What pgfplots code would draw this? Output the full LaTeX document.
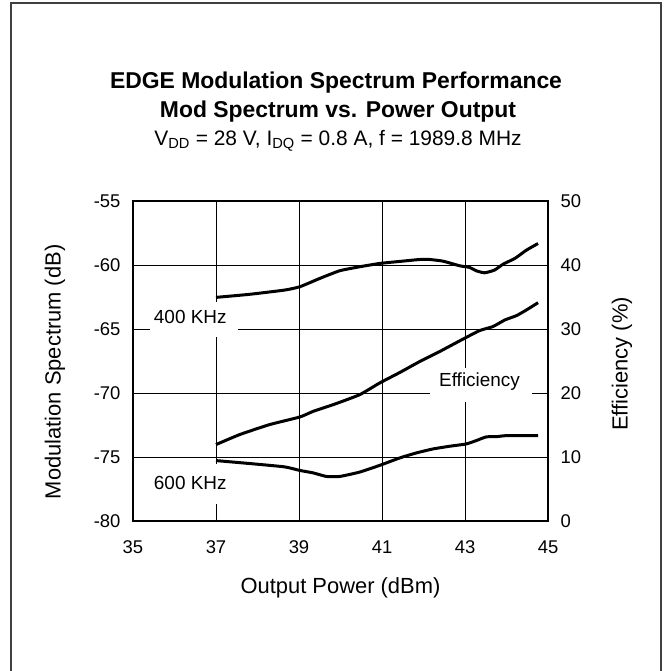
\documentclass[border=0pt]{standalone}
\usepackage{fontspec}
\setmainfont{Liberation Sans}
\usepackage{pgfplots}
\pgfplotsset{compat=1.18}
\pgfplotstableread{
x y
37.00 -62.53
37.81 -62.29
38.65 -61.96
39.02 -61.70
39.50 -61.05
39.98 -60.45
40.46 -60.14
40.94 -59.88
41.43 -59.72
41.91 -59.57
42.15 -59.57
42.47 -59.70
42.87 -60.06
43.11 -60.19
43.27 -60.45
43.47 -60.61
43.71 -60.40
43.92 -59.93
44.20 -59.49
44.48 -58.84
44.76 -58.32
}\kfour
\pgfplotstableread{
x y
37.00 -75.28
37.81 -75.51
38.65 -75.77
39.02 -76.05
39.34 -76.24
39.66 -76.52
39.98 -76.52
40.46 -76.18
40.94 -75.66
41.43 -75.07
41.83 -74.68
42.23 -74.37
42.63 -74.16
43.03 -73.98
43.27 -73.72
43.51 -73.43
43.76 -73.41
44.00 -73.33
44.76 -73.33
}\ksix
\pgfplotstableread{
x y
37.00 11.94
37.57 13.50
38.29 15.06
39.02 16.25
39.34 17.13
39.82 18.17
40.46 19.73
40.94 21.55
41.43 23.21
41.91 24.92
42.39 26.48
42.87 28.14
43.35 29.75
43.67 30.37
43.96 31.41
44.24 32.09
44.48 32.97
44.76 34.11
}\eff
\begin{document}
\begin{tikzpicture}
\useasboundingbox (0,0) rectangle (664bp,671bp);
\draw[line width=1.2bp, black!75] (11bp,-5bp) -- (11bp,668bp) -- (661bp,668bp) -- (661bp,-5bp);
\node[font=\bfseries\fontsize{23}{27}\selectfont] at (336bp,588bp) {EDGE Modulation Spectrum Performance};
\node[font=\bfseries\fontsize{23}{27}\selectfont] at (338bp,559bp) {Mod Spectrum vs. Power Output};
\node[font=\fontsize{21}{24}\selectfont] at (338bp,530bp) {V\textsubscript{DD} = 28 V, I\textsubscript{DQ} = 0.8 A, f = 1989.8 MHz};
\begin{axis}[
  at={(133bp,150bp)}, anchor=south west,
  scale only axis, width=415bp, height=320bp,
  xmin=35, xmax=45, ymin=-80, ymax=-55,
  xtick={35,37,...,45}, ytick={-80,-75,...,-55},
  grid=major, grid style={line width=0.7bp, black},
  axis line style={line width=2bp},
  major tick length=0pt,
  /pgf/number format/assume math mode=true,
  tick label style={font=\fontsize{18.5}{21}\selectfont},
  xticklabel style={anchor=north, yshift=-16bp, text height=13bp, text depth=0pt},
  yticklabel style={xshift=-9bp},
  label style={font=\fontsize{22}{25}\selectfont},
  xlabel={Output Power (dBm)},
  ylabel={Modulation Spectrum (dB)},
  xlabel style={at={(axis description cs:0.5,-0.209)}, anchor=center},
  ylabel style={at={(axis description cs:-0.188,0.466)}, anchor=center},
  clip=false,
]
\addplot[black, line width=3bp, smooth, tension=0.3] table[x=x,y=y] {\kfour};
\addplot[black, line width=3bp, smooth, tension=0.3] table[x=x,y=y] {\ksix};
\node[fill=white, minimum width=88bp, minimum height=35bp, inner sep=0pt] at (axis cs:36.46,-64.25) {};
\node[font=\fontsize{19}{22}\selectfont, inner sep=0pt] at (axis cs:36.38,-64.03) {400 KHz};
\node[fill=white, minimum width=88bp, minimum height=40bp, inner sep=0pt] at (axis cs:36.46,-77.14) {};
\node[font=\fontsize{19}{22}\selectfont, inner sep=0pt] at (axis cs:36.38,-77.01) {600 KHz};
\node[fill=white, minimum width=102bp, minimum height=34bp, inner sep=0pt] at (axis cs:43.38,-69.35) {};
\node[font=\fontsize{19}{22}\selectfont, inner sep=0pt] at (axis cs:43.35,-69.10) {Efficiency};
\end{axis}
\begin{axis}[
  at={(133bp,150bp)}, anchor=south west,
  scale only axis, width=415bp, height=320bp,
  xmin=35, xmax=45, ymin=0, ymax=50,
  axis x line=none, axis y line*=right,
  ytick={0,10,...,50},
  axis line style={line width=2bp},
  major tick length=0pt,
  /pgf/number format/assume math mode=true,
  tick label style={font=\fontsize{18.5}{21}\selectfont},
  yticklabel style={xshift=9bp},
  label style={font=\fontsize{22}{25}\selectfont},
  ylabel={Efficiency (\%)},
  ylabel style={at={(axis description cs:1.178,0.491)}, anchor=center},
  clip=false,
]
\addplot[black, line width=3bp, smooth, tension=0.3] table[x=x,y=y] {\eff};
\end{axis}
\end{tikzpicture}
\end{document}
